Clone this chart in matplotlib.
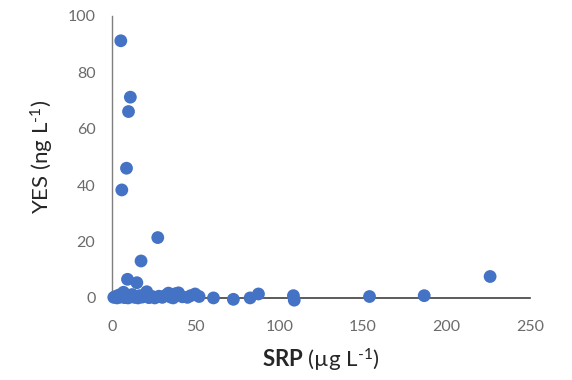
import matplotlib
matplotlib.use("Agg")
import matplotlib.pyplot as plt

plt.rcParams['font.family'] = ['Lato', 'DejaVu Sans']
plt.rcParams['mathtext.fontset'] = 'custom'
plt.rcParams['mathtext.rm'] = 'Lato'
plt.rcParams['mathtext.bf'] = 'Lato:bold'
plt.rcParams['mathtext.it'] = 'Lato:italic'

# Soluble reactive phosphorus (µg/L) and YES estrogenic activity (ng/L)
srp = [5.2, 10.9, 9.8, 8.6, 5.8, 27.3, 17.3, 9.2, 14.8,
       1.0, 2.0, 3.0, 4.0, 5.0, 6.8, 7.5, 8.0, 9.5, 11.0, 12.0, 13.5,
       15.5, 16.5, 18.0, 19.5, 20.7, 22.0, 24.0, 25.5, 28.0, 30.0,
       32.0, 33.7, 35.0, 36.5, 38.0, 39.7, 42.0, 45.0, 47.0, 49.6, 52.0,
       60.6, 72.5, 82.5, 87.5, 108.4, 108.9, 153.9, 186.6, 226.0]
yes = [91.2, 71.2, 66.1, 46.0, 38.3, 21.4, 13.1, 6.6, 5.4,
       0.2, 0.5, 0.0, 1.0, 0.3, 2.0, 0.1, 0.6, 0.0, 0.4, 1.2, 0.2,
       0.0, 0.8, 0.3, 1.0, 2.2, 0.1, 0.5, 0.0, 0.6, 0.2,
       0.9, 1.7, 0.3, 0.0, 1.5, 1.8, 0.4, 0.2, 0.8, 1.4, 0.5,
       0.0, -0.5, 0.0, 1.4, 0.8, -0.8, 0.5, 0.8, 7.6]

x_ticks = [0, 50, 100, 150, 200, 250]
y_ticks = [0, 20, 40, 60, 80, 100]

fig = plt.figure(figsize=(5.72, 3.80), dpi=100)
ax = fig.add_axes([0.196, 0.216, 0.731, 0.742])

ax.scatter(srp, yes, s=85, color='#4472c4', edgecolors='none',
           clip_on=False, zorder=3)

ax.set_xlim(0, 250)
ax.set_ylim(0, 100)
ax.set_xticks(x_ticks)
ax.set_yticks(y_ticks)

for side in ('top', 'right'):
    ax.spines[side].set_visible(False)
ax.spines['left'].set_color('#7f7f7f')
ax.spines['left'].set_linewidth(1.0)
ax.spines['bottom'].set_color('#404040')
ax.spines['bottom'].set_linewidth(1.2)
ax.spines['bottom'].set_zorder(2)

ax.tick_params(axis='both', length=0, labelsize=11.5, labelcolor='#6b6b6b')
ax.tick_params(axis='x', pad=16)
ax.tick_params(axis='y', pad=12)

ax.set_xlabel(r'$\mathbf{SRP}$ (µg L$^{\text{-1}}$)', fontsize=16,
              color='#262626', labelpad=9)
ax.set_ylabel(r'YES (ng L$^{\text{-1}}$)', fontsize=16, color='#262626',
              labelpad=8)

fig.savefig('out.png', dpi=100)
